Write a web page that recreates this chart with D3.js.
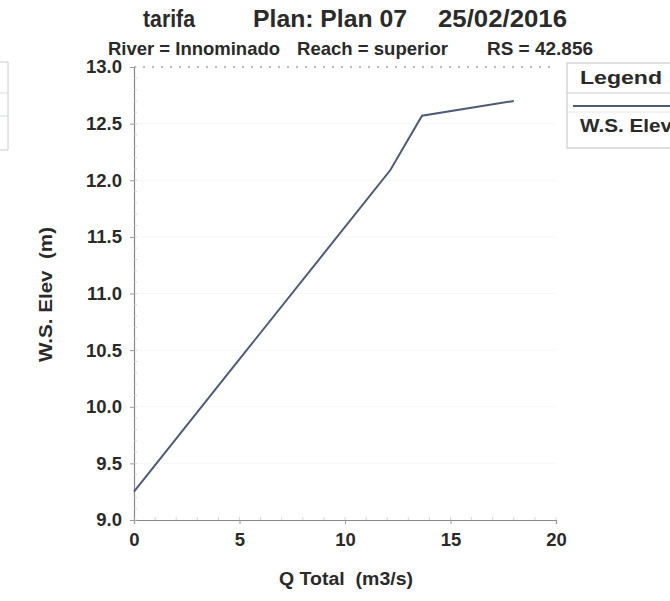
<!DOCTYPE html>
<html><head><meta charset="utf-8">
<script src="https://cdn.jsdelivr.net/npm/d3@7"></script>
<style>body{margin:0;background:#fff}svg{display:block}text{font-family:"Liberation Sans",Arial,sans-serif}</style>
</head><body>
<script>
const qTotal = [0, 5, 12.15, 13.65, 18.0];
const wsElev = [9.25, 10.42, 12.09, 12.57, 12.70];
const xTicks = [0, 5, 10, 15, 20];
const yTicks = [9.0, 9.5, 10.0, 10.5, 11.0, 11.5, 12.0, 12.5, 13.0];
const titleParts = ["tarifa", "Plan: Plan 07", "25/02/2016"];
const subtitleParts = ["River = Innominado", "Reach = superior", "RS = 42.856"];
const legendItems = ["W.S. Elev"];

const W = 670, H = 601;
const svg = d3.select("body").append("svg").attr("width", W).attr("height", H);
const x = d3.scaleLinear().domain([0, 20]).range([134, 556]);
const y = d3.scaleLinear().domain([9, 13]).range([520, 67]);
const ink = "#2a2a2a";

// faint grid
svg.append("g").selectAll("line").data(yTicks.slice(1, -1)).join("line")
  .attr("x1", x(0)).attr("x2", x(20)).attr("y1", d => y(d)).attr("y2", d => y(d))
  .attr("stroke", "#f2f2f2").attr("stroke-width", 0.6);
svg.append("line").attr("x1", x(0)).attr("x2", x(20)).attr("y1", y(13)).attr("y2", y(13))
  .attr("stroke", "#777").attr("stroke-dasharray", "2,7").attr("stroke-width", 1.2);

// axes
const xAxis = svg.append("g").attr("transform", `translate(0,${y(9)})`)
  .call(d3.axisBottom(x).tickValues(xTicks).tickFormat(d3.format("d")).tickSize(4).tickPadding(9));
const yAxis = svg.append("g").attr("transform", `translate(${x(0)},0)`)
  .call(d3.axisLeft(y).tickValues(yTicks).tickFormat(d3.format(".1f")).tickSize(4).tickPadding(8));
[xAxis, yAxis].forEach(g => {
  g.select(".domain").attr("stroke", "#888").attr("stroke-width", 1.2);
  g.selectAll(".tick line").attr("stroke", "#999");
  g.selectAll("text").attr("fill", ink).attr("font-size", 18.5).attr("font-weight", "bold");
});
// minor ticks
svg.append("g").selectAll("line").data(d3.range(9, 13.01, 0.1)).join("line")
  .attr("x1", x(0)).attr("x2", x(0) + 3).attr("y1", d => y(d)).attr("y2", d => y(d))
  .attr("stroke", "#ccc").attr("stroke-width", 0.8);
svg.append("g").selectAll("line").data(d3.range(0, 20.01, 1)).join("line")
  .attr("x1", d => x(d)).attr("x2", d => x(d)).attr("y1", y(9)).attr("y2", y(9) - 3)
  .attr("stroke", "#ccc").attr("stroke-width", 0.8);

// series line
const pts = qTotal.map((q, i) => [q, wsElev[i]]);
svg.append("path").datum(pts)
  .attr("d", d3.line().x(d => x(d[0])).y(d => y(d[1])))
  .attr("fill", "none").attr("stroke", "#4f5a74").attr("stroke-width", 2);

// titles
const titleX = [143, 253, 438], titleLen = [52, 154, 129];
titleParts.forEach((t, i) => svg.append("text").attr("x", titleX[i]).attr("y", 27)
  .attr("font-size", 24).attr("font-weight", "bold").attr("fill", ink)
  .attr("textLength", titleLen[i]).attr("lengthAdjust", "spacingAndGlyphs").text(t));
const subX = [108, 297, 487], subLen = [172, 151, 106];
subtitleParts.forEach((t, i) => svg.append("text").attr("x", subX[i]).attr("y", 55)
  .attr("font-size", 18.5).attr("font-weight", "bold").attr("fill", ink)
  .attr("textLength", subLen[i]).attr("lengthAdjust", "spacingAndGlyphs").text(t));
svg.append("text").attr("x", 279).attr("y", 585)
  .attr("font-size", 18).attr("font-weight", "bold").attr("fill", ink).style("white-space", "pre")
  .attr("textLength", 134).attr("lengthAdjust", "spacingAndGlyphs").text("Q Total  (m3/s)");
svg.append("text").attr("transform", "translate(52,362) rotate(-90)")
  .attr("font-size", 18).attr("font-weight", "bold").attr("fill", ink).style("white-space", "pre")
  .attr("textLength", 135).attr("lengthAdjust", "spacingAndGlyphs").text("W.S. Elev  (m)");

// legend
const lg = svg.append("g");
lg.append("rect").attr("x", 567).attr("y", 63).attr("width", 120).attr("height", 85)
  .attr("fill", "#fff").attr("stroke", "#ccc").attr("stroke-width", 1.2);
lg.append("line").attr("x1", 567).attr("x2", 687).attr("y1", 93).attr("y2", 93).attr("stroke", "#ccc");
lg.append("text").attr("x", 580).attr("y", 84)
  .attr("font-size", 19).attr("font-weight", "bold").attr("fill", ink)
  .attr("textLength", 82).attr("lengthAdjust", "spacingAndGlyphs").text("Legend");
legendItems.forEach((t, i) => {
  lg.append("line").attr("x1", 573).attr("x2", 687).attr("y1", 106 + i * 40).attr("y2", 106 + i * 40)
    .attr("stroke", "#4f5a74").attr("stroke-width", 1.8);
  lg.append("line").attr("x1", 567).attr("x2", 687).attr("y1", 112 + i * 40).attr("y2", 112 + i * 40).attr("stroke", "#e6e6e6");
  lg.append("text").attr("x", 580).attr("y", 132 + i * 40).attr("font-size", 18).attr("font-weight", "bold")
    .attr("fill", ink).attr("textLength", 92).attr("lengthAdjust", "spacingAndGlyphs").text(t);
});
// partial neighbouring box on left edge
svg.append("path").attr("d", "M0,62 H8 V150 H0").attr("fill", "none").attr("stroke", "#ccc");
svg.append("line").attr("x1", 0).attr("x2", 8).attr("y1", 93).attr("y2", 93).attr("stroke", "#ddd");
svg.append("line").attr("x1", 0).attr("x2", 8).attr("y1", 116).attr("y2", 116).attr("stroke", "#cde");
</script>
</body></html>
